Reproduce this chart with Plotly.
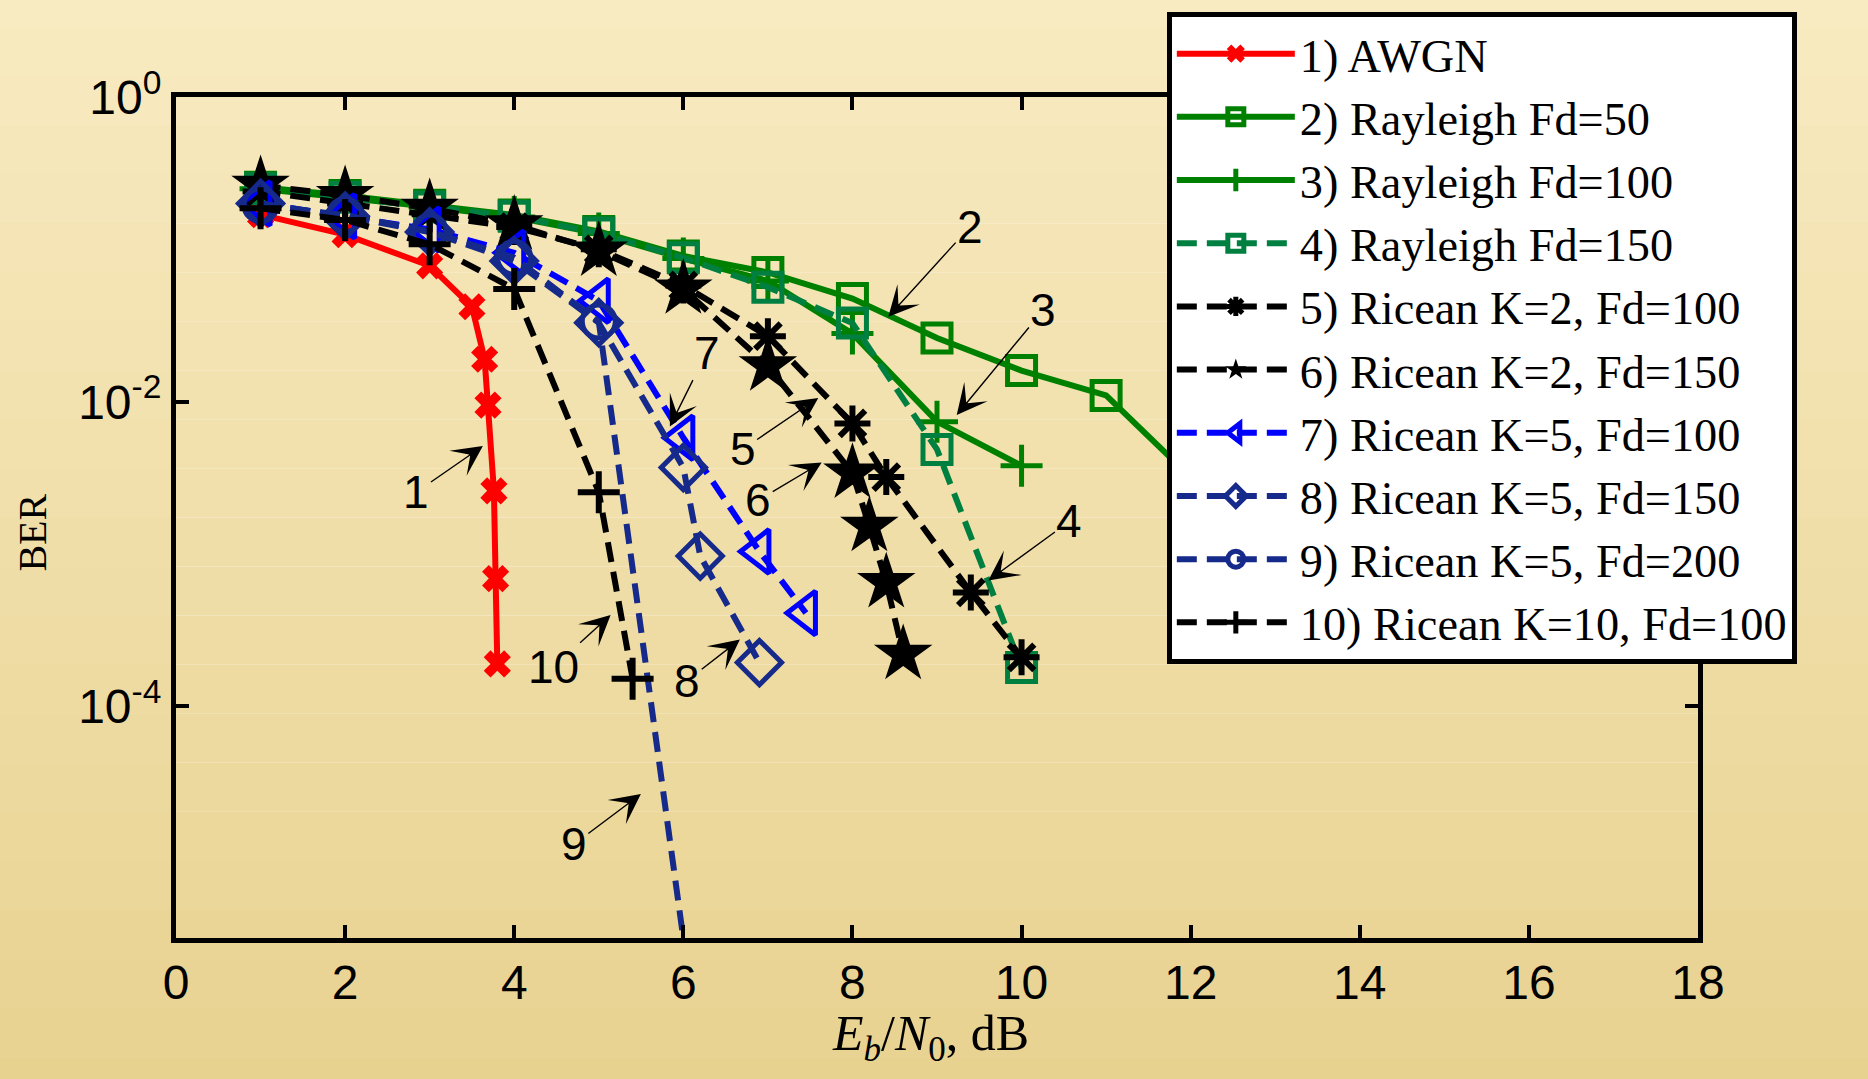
import plotly.graph_objects as go

# ---------------- data ----------------
names = [
    "1) AWGN", "2) Rayleigh Fd=50", "3) Rayleigh Fd=100", "4) Rayleigh Fd=150",
    "5) Ricean K=2, Fd=100", "6) Ricean K=2, Fd=150", "7) Ricean K=5, Fd=100",
    "8) Ricean K=5, Fd=150", "9) Ricean K=5, Fd=200", "10) Ricean K=10, Fd=100",
]

s1_x = [1, 2, 3, 3.5, 3.65, 3.69, 3.76, 3.78, 3.8]
s1_y = [0.169, 0.125, 0.078, 0.042, 0.019, 0.0095, 0.0026, 6.9e-4, 1.9e-4]

s2_x = [1, 2, 3, 4, 5, 6, 7, 8, 9, 10, 11, 12]
s2_y = [0.256, 0.226, 0.195, 0.168, 0.131, 0.0905, 0.0706, 0.0475, 0.0262, 0.016, 0.011, 0.0032]

s3_x = [1, 2, 3, 4, 5, 6, 7, 8, 9, 10]
s3_y = [0.25, 0.22, 0.19, 0.163, 0.127, 0.087, 0.062, 0.028, 0.0074, 0.0038]

s4_x = [1, 2, 3, 4, 5, 6, 7, 8, 9, 10]
s4_y = [0.25, 0.22, 0.19, 0.165, 0.128, 0.088, 0.0565, 0.0328, 0.00486, 1.8e-4]

s5_x = [1, 2, 3, 4, 5, 6, 7, 8, 8.4, 9.4, 10]
s5_y = [0.24, 0.2, 0.17, 0.14, 0.10, 0.058, 0.0269, 0.0072, 0.0032, 5.6e-4, 2.1e-4]

s6_x = [1, 2, 3, 4, 5, 6, 7, 8, 8.2, 8.4, 8.6]
s6_y = [0.263, 0.226, 0.186, 0.145, 0.0975, 0.055, 0.0172, 0.0034, 0.00152, 6.5e-4, 2.2e-4]

s7_x = [1, 2, 3, 4, 5, 6, 6.9, 7.45]
s7_y = [0.2, 0.165, 0.135, 0.095, 0.046, 0.0058, 0.00104, 4.1e-4]

s8_x = [1, 2, 3, 4, 5, 6, 6.2, 6.9]
s8_y = [0.2, 0.165, 0.13, 0.084, 0.033, 0.0037, 9.7e-4, 1.94e-4]

s9_x = [1, 2, 3, 4, 5, 6]
s9_y = [0.195, 0.168, 0.131, 0.088, 0.0336, 3.0e-6]

s10_x = [1, 2, 3, 4, 5, 5.4]
s10_y = [0.186, 0.156, 0.108, 0.055, 0.00255, 1.52e-4]

x_ticks = [0, 2, 4, 6, 8, 10, 12, 14, 16, 18]
y_tickvals = [1e-4, 1e-2, 1]
y_ticktext = ["10<sup>-4</sup>", "10<sup>-2</sup>", "10<sup>0</sup>"]

# curve labels: (text, label x, label log10 y, arrow tip x, arrow tip log10 y)
curve_labels = [
    ("1", 2.844, -2.593, 3.629, -2.291),
    ("2", 9.392, -0.851, 8.424, -1.442),
    ("3", 10.258, -1.398, 9.233, -2.087),
    ("4", 10.566, -2.786, 9.607, -3.174),
    ("5", 6.701, -2.313, 7.596, -1.975),
    ("6", 6.886, -2.646, 7.636, -2.399),
    ("7", 6.275, -1.678, 5.841, -2.162),
    ("8", 6.046, -3.830, 6.669, -3.561),
    ("9", 4.705, -4.906, 5.498, -4.575),
    ("10", 4.460, -3.744, 5.140, -3.400),
]

# ---------------- styles ----------------
RED = "#FF0000"
GREEN = "#008000"
TEAL = "#008040"
BLACK = "#000000"
BLUE = "#0000FF"
NAVY = "#152A8A"
DASH = "20px,10px"

SERIF = "Liberation Serif, Times New Roman, serif"
SANS = "Liberation Sans, Arial, sans-serif"
NARROW = "Liberation Sans Narrow, Arial Narrow, Liberation Sans, Arial, sans-serif"

series = [
    (s1_x, s1_y, RED, "solid", "x", 24, 0),
    (s2_x, s2_y, GREEN, "solid", "square-open", 28, 5),
    (s3_x, s3_y, GREEN, "solid", "cross-thin-open", 30, 5),
    (s4_x, s4_y, TEAL, DASH, "square-open", 28, 5),
    (s5_x, s5_y, BLACK, DASH, "asterisk-open", 30, 6),
    (s6_x, s6_y, BLACK, DASH, "star", 44, 0),
    (s7_x, s7_y, BLUE, DASH, "triangle-left-open", 38, 5),
    (s8_x, s8_y, NAVY, DASH, "diamond-open", 34, 5),
    (s9_x, s9_y, NAVY, DASH, "circle-open", 33, 5),
    (s10_x, s10_y, BLACK, DASH, "cross-thin-open", 30, 6),
]

fig = go.Figure()
for name, (xs, ys, col, dash, sym, size, lw) in zip(names, series):
    fig.add_trace(go.Scatter(
        x=xs, y=ys, name=name, mode="lines+markers",
        line=dict(color=col, width=6, dash=dash),
        marker=dict(symbol=sym, size=size, color=col,
                    line=dict(width=lw, color=col)),
        cliponaxis=False,
    ))

annotations = []
for txt, lx, ly, hx, hy in curve_labels:
    annotations.append(dict(
        x=hx, y=hy, ax=lx, ay=ly, xref="x", yref="y", axref="x", ayref="y",
        text=txt, showarrow=True, arrowhead=3, arrowsize=3.6, arrowwidth=1.4,
        arrowcolor=BLACK, standoff=0, startstandoff=0,
        font=dict(family=NARROW, size=46, color=BLACK),
    ))

# axis titles
annotations.append(dict(
    x=-0.094, y=0.482, xref="paper", yref="paper", text="BER", textangle=-90,
    showarrow=False, font=dict(family=SERIF, size=40, color=BLACK),
    xanchor="center", yanchor="middle",
))
annotations.append(dict(
    x=0.496, y=-0.118, xref="paper", yref="paper",
    text="<i>E</i><sub><i>b</i></sub>/<i>N</i><sub>0</sub>, dB",
    showarrow=False, font=dict(family=SERIF, size=50, color=BLACK),
    xanchor="center", yanchor="middle",
))

# background gradient (beige texture approximation)
shapes = []
n_bands = 24
top_c = (249, 236, 196)
bot_c = (232, 210, 144)
for i in range(n_bands):
    t = i / (n_bands - 1)
    c = tuple(int(round(top_c[k] + (bot_c[k] - top_c[k]) * t)) for k in range(3))
    y1 = 1 - i / n_bands
    y0 = 1 - (i + 1) / n_bands
    shapes.append(dict(
        type="rect", xref="paper", yref="paper", layer="below",
        x0=-0.2, x1=1.2, y0=-0.2 + 1.4 * y0, y1=-0.2 + 1.4 * y1,
        fillcolor="rgb(%d,%d,%d)" % c, line=dict(width=0),
    ))

fig.update_layout(
    width=1868, height=1079, autosize=False,
    margin=dict(l=176, r=170, t=83, b=141, pad=0),
    paper_bgcolor="rgb(240,224,170)",
    plot_bgcolor="white",
    showlegend=True,
    legend=dict(
        x=0.651, y=1.101, xanchor="left", yanchor="top",
        bgcolor="white", bordercolor=BLACK, borderwidth=5,
        font=dict(family=SERIF, size=46.3, color=BLACK),
        itemwidth=118, tracegroupgap=0, maxheight=900,
    ),
    annotations=annotations,
    shapes=shapes,
    xaxis=dict(
        range=[0, 18], tickvals=x_ticks, ticks="inside", ticklen=13, tickwidth=4,
        tickcolor=BLACK, showline=True, linecolor=BLACK, linewidth=5,
        mirror="ticks", showgrid=False, zeroline=False,
        tickfont=dict(family=SANS, size=48, color=BLACK),
        ticklabelstandoff=-2,
    ),
    yaxis=dict(
        type="log", range=[-5.52, 0], tickvals=y_tickvals, ticktext=y_ticktext,
        ticks="inside", ticklen=13, tickwidth=4, tickcolor=BLACK,
        showline=True, linecolor=BLACK, linewidth=5, mirror="ticks",
        showgrid=False, zeroline=False,
        tickfont=dict(family=SANS, size=48, color=BLACK),
        ticklabelstandoff=0,
    ),
)

fig.write_html(
    "out.html",
    config={"displayModeBar": False},
    post_script="document.body.style.margin='0px';document.body.style.overflow='hidden';",
)
